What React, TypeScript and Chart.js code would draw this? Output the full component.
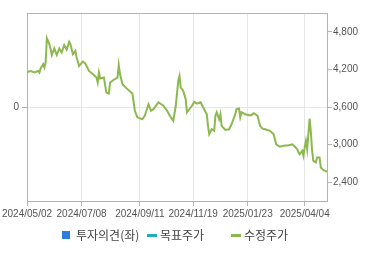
import React, { useEffect, useRef } from "react";
import { Chart, registerables } from "chart.js";

Chart.register(...registerables);

// trading-day index (0 = 2024/05/02) and adjusted close price
const tradingDay = [
  0, 3, 6, 9, 10, 11, 13, 14, 15, 16,
  18, 19, 20, 22, 24, 26, 28, 30, 32, 34,
  35, 37, 39, 40, 42, 45, 47, 50, 53, 56,
  57, 58, 59, 62, 64, 66, 67, 70, 73, 74,
  75, 77, 81, 85, 87, 89, 93, 95, 98, 100,
  102, 106, 110, 113, 116, 118, 120, 122, 123, 124,
  126, 128, 129, 131, 133, 135, 137, 140, 142, 145,
  146, 147, 149, 151, 152, 153, 155, 156, 157, 160,
  163, 165, 168, 169, 171, 172, 173, 176, 179, 181,
  183, 186, 188, 190, 192, 196, 199, 201, 204, 207,
  211, 214, 216, 218, 219, 220, 222, 223, 224, 225,
  226, 228, 229, 230, 231, 233, 234, 236, 237, 239,
  242,
];
const adjustedPrice = [
  4160, 4175, 4150, 4175, 4150, 4215, 4285, 4230, 4310, 4695,
  4605, 4525, 4430, 4535, 4430, 4535, 4470, 4590, 4515, 4640,
  4605, 4445, 4495, 4390, 4255, 4325, 4295, 4175, 4125, 4070,
  3990, 4150, 4055, 4070, 3830, 3815, 3990, 4035, 4070, 4270,
  4125, 3965, 3885, 3815, 3540, 3435, 3405, 3460, 3645, 3540,
  3565, 3675, 3620, 3540, 3435, 3380, 3620, 4015, 4095, 3910,
  3860, 3725, 3515, 3565, 3620, 3680, 3655, 3675, 3595, 3485,
  3300, 3165, 3245, 3220, 3460, 3515, 3405, 3485, 3300, 3235,
  3245, 3325, 3485, 3565, 3575, 3435, 3515, 3485, 3470, 3470,
  3500, 3460, 3300, 3255, 3245, 3220, 3165, 3005, 2965, 2980,
  2990, 3005, 2970, 2925, 2875, 2845, 2900, 2820, 2955, 3060,
  2925, 3415, 3195, 2900, 2740, 2715, 2795, 2795, 2635, 2595,
  2565,
];
const opinion: number[] = [];
const targetPrice: number[] = [];

const xTickDays = [0, 44, 91, 134, 178, 224];
const xTickLabels = ["2024/05/02", "2024/07/08", "2024/09/11", "2024/11/19", "2025/01/23", "2025/04/04"];
const lastDay = 242;
const rightTicks = [2400, 3000, 3600, 4200, 4800];
const rightMin = 2100;
const rightMax = 5100;
const leftTicks = [0];

const seriesNames = ["투자의견(좌)", "목표주가", "수정주가"];
const seriesColors = ["#2b7de1", "#22aabd", "#8cb94f"];

const AXIS = "#b3b3b3";
const GRID = "#e6e6e6";
const TICKTXT = "#555";
const FONT = "'Liberation Sans', Arial, sans-serif";

const framePlugin = {
  id: "frameTop",
  afterDraw(chart: any) {
    const { ctx, chartArea } = chart;
    ctx.save();
    ctx.strokeStyle = AXIS;
    ctx.lineWidth = 1;
    const y = Math.round(chartArea.top) + 0.5;
    ctx.beginPath();
    ctx.moveTo(chartArea.left, y);
    ctx.lineTo(chartArea.right, y);
    ctx.stroke();
    ctx.restore();
  },
};

export default function App() {
  const ref = useRef<HTMLCanvasElement | null>(null);

  useEffect(() => {
    if (!ref.current) return;
    const points = tradingDay.map((d, i) => ({ x: d, y: adjustedPrice[i] }));
    const chart = new Chart(ref.current, {
      type: "line",
      data: {
        datasets: [
          {
            type: "bar",
            label: seriesNames[0],
            data: opinion as any,
            backgroundColor: seriesColors[0],
            yAxisID: "yL",
          } as any,
          {
            label: seriesNames[1],
            data: targetPrice as any,
            borderColor: seriesColors[1],
            yAxisID: "yR",
            pointRadius: 0,
          },
          {
            label: seriesNames[2],
            data: points as any,
            borderColor: seriesColors[2],
            borderWidth: 2,
            pointRadius: 0,
            tension: 0,
            yAxisID: "yR",
          },
        ],
      },
      options: {
        responsive: false,
        animation: false,
        layout: { padding: { top: 13, left: 0, right: 0, bottom: 0 } },
        plugins: { legend: { display: false }, tooltip: { enabled: false } },
        scales: {
          x: {
            type: "linear",
            position: "bottom",
            offset: false,
            min: 0,
            max: lastDay,
            afterBuildTicks: (s: any) => {
              s.ticks = xTickDays.map((v) => ({ value: v }));
            },
            afterFit: (s: any) => {
              s.height = 54;
            },
            ticks: {
              autoSkip: false,
              maxRotation: 0,
              padding: 2,
              color: TICKTXT,
              font: { size: 10, family: FONT },
              callback: (v: any) => {
                const i = xTickDays.indexOf(Number(v));
                return i >= 0 ? xTickLabels[i] : "";
              },
            },
            grid: { offset: false, color: GRID, tickColor: AXIS, tickLength: 5 },
            border: { color: AXIS },
          },
          yL: {
            position: "left",
            min: -1,
            max: 1,
            afterBuildTicks: (s: any) => {
              s.ticks = leftTicks.map((v) => ({ value: v }));
            },
            afterFit: (s: any) => {
              s.width = 27;
            },
            ticks: {
              padding: 3,
              color: TICKTXT,
              font: { size: 10, family: FONT },
              callback: (v: any) => String(v),
            },
            grid: { color: GRID, tickColor: AXIS, tickLength: 5 },
            border: { color: AXIS },
          },
          yR: {
            position: "right",
            min: rightMin,
            max: rightMax,
            afterBuildTicks: (s: any) => {
              s.ticks = rightTicks.map((v) => ({ value: v }));
            },
            afterFit: (s: any) => {
              s.width = 43;
            },
            ticks: {
              padding: 1,
              color: TICKTXT,
              font: { size: 10, family: FONT },
              callback: (v: any) => Number(v).toLocaleString("en-US"),
            },
            grid: { drawOnChartArea: false, tickColor: AXIS, tickLength: 5 },
            border: { color: AXIS },
          },
        },
      } as any,
      plugins: [framePlugin],
    });
    return () => chart.destroy();
  }, []);

  const legendText: React.CSSProperties = {
    position: "absolute",
    top: 227,
    fontSize: 12,
    lineHeight: "16px",
    color: "#444",
    fontFamily: "'Noto Sans CJK KR', sans-serif",
    whiteSpace: "nowrap",
  };

  return (
    <div style={{ position: "fixed", left: 0, top: 0, width: 370, height: 255, background: "#fff", overflow: "hidden" }}>
      <canvas ref={ref} width={370} height={255} style={{ position: "absolute", left: 0, top: 0 }} />
      <div style={{ position: "absolute", left: 62, top: 231, width: 8, height: 8, background: seriesColors[0] }} />
      <span style={{ ...legendText, left: 76 }}>{seriesNames[0]}</span>
      <div style={{ position: "absolute", left: 147, top: 234, width: 10, height: 3, background: seriesColors[1] }} />
      <span style={{ ...legendText, left: 160 }}>{seriesNames[1]}</span>
      <div style={{ position: "absolute", left: 231, top: 234, width: 10, height: 3, background: seriesColors[2] }} />
      <span style={{ ...legendText, left: 244 }}>{seriesNames[2]}</span>
    </div>
  );
}
